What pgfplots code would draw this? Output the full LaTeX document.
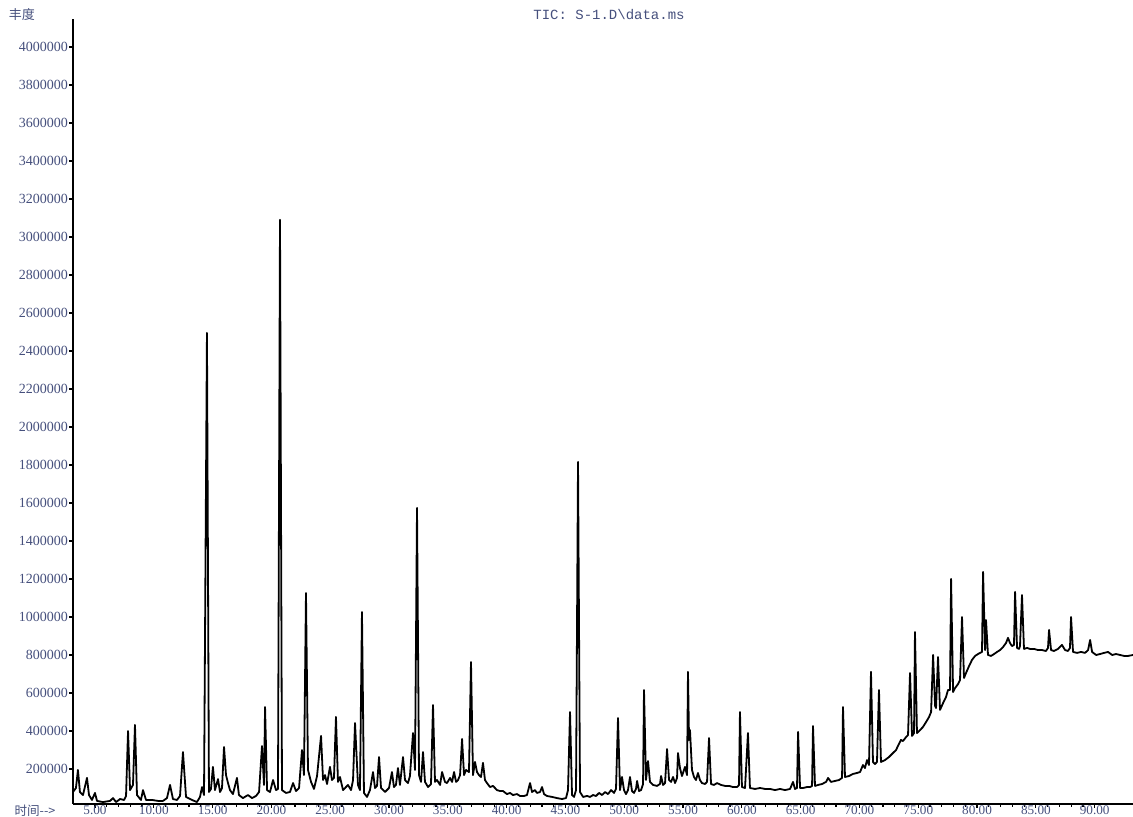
\documentclass[border=0pt]{standalone}
\usepackage{pgfplots}
\pgfplotsset{compat=1.18}
\usepackage{fontspec}
\setmainfont{Liberation Serif}
\newfontfamily\cjk{Noto Sans CJK SC}
\newfontfamily\monof{Liberation Mono}
\definecolor{lblc}{RGB}{70,80,125}
\begin{document}
\begin{tikzpicture}
\begin{axis}[
  name=ax,
  scale only axis,
  width=530pt, height=392.5pt,
  xmin=3.13, xmax=93.26,
  ymin=15800, ymax=4147000,
  axis x line=bottom, axis y line=left,
  axis line style={-, line width=1pt, black},
  xtick={5,10,...,90},
  minor x tick num=4,
  ytick={200000,400000,...,4000000},
  scaled y ticks=false, scaled x ticks=false,
  tick align=outside,
  major tick length=2pt, minor tick length=1.3pt,
  tick style={black, line width=0.6pt},
  xticklabel={\pgfmathprintnumber[fixed,fixed zerofill,precision=2]{\tick}},
  yticklabel={\pgfmathprintnumber[fixed,precision=0,1000 sep={}]{\tick}},
  /pgf/number format/assume math mode=true,
  ticklabel style={font=\fontsize{7}{8}\selectfont, text=lblc},
  xticklabel style={font=\fontsize{6.6}{7}\selectfont, inner sep=0pt, yshift=1.2pt},
  yticklabel style={xshift=3pt},
  clip=true,
]
\addplot[black, line width=0.9pt, line join=round] coordinates {
(3.13,79000) (3.38,100000) (3.55,195000) (3.72,79000) (3.98,63000) (4.32,153000) (4.49,63000) (4.74,37000)
(5.00,74000) (5.17,32000) (5.68,26000) (6.28,32000) (6.53,47000) (6.79,26000) (7.13,42000) (7.47,37000)
(7.64,58000) (7.81,400000) (7.98,89000) (8.23,116000) (8.40,432000) (8.57,63000) (8.91,37000) (9.08,89000)
(9.34,37000) (9.85,37000) (10.36,32000) (10.78,32000) (11.12,47000) (11.38,116000) (11.63,42000) (11.97,37000)
(12.23,58000) (12.48,289000) (12.74,53000) (13.25,37000) (13.67,26000) (13.93,53000) (14.10,105000) (14.27,63000)
(14.52,2495000) (14.69,79000) (14.86,95000) (15.03,211000) (15.20,89000) (15.46,147000) (15.63,79000) (15.80,100000)
(15.97,316000) (16.14,168000) (16.31,126000) (16.48,89000) (16.73,68000) (17.07,153000) (17.24,63000) (17.58,47000)
(18.01,63000) (18.35,47000) (18.69,58000) (18.95,79000) (19.20,321000) (19.37,116000) (19.46,526000) (19.63,89000)
(19.88,79000) (20.14,142000) (20.39,89000) (20.56,95000) (20.73,3090000) (20.90,89000) (21.24,74000) (21.58,79000)
(21.84,126000) (22.09,84000) (22.35,100000) (22.60,300000) (22.77,168000) (22.94,1126000) (23.11,195000) (23.37,132000)
(23.62,95000) (23.88,163000) (24.22,374000) (24.39,142000) (24.56,168000) (24.73,121000) (24.98,211000) (25.15,142000)
(25.32,153000) (25.49,474000) (25.66,132000) (25.83,158000) (26.09,89000) (26.51,116000) (26.77,89000) (26.94,142000)
(27.11,442000) (27.36,116000) (27.53,89000) (27.70,1026000) (27.87,74000) (28.13,53000) (28.38,89000) (28.64,184000)
(28.81,100000) (28.98,111000) (29.15,263000) (29.32,100000) (29.66,79000) (30.00,100000) (30.25,184000) (30.42,105000)
(30.59,116000) (30.76,205000) (30.93,116000) (31.19,263000) (31.36,142000) (31.61,126000) (31.78,163000) (32.04,389000)
(32.21,195000) (32.38,1574000) (32.55,168000) (32.72,132000) (32.89,289000) (33.06,132000) (33.32,105000) (33.57,121000)
(33.74,537000) (33.91,132000) (34.08,142000) (34.34,116000) (34.51,184000) (34.76,132000) (34.93,126000) (35.19,153000)
(35.36,132000) (35.53,184000) (35.70,132000) (35.87,142000) (36.04,168000) (36.21,358000) (36.38,168000) (36.55,195000)
(36.80,184000) (36.97,763000) (37.14,168000) (37.31,237000) (37.48,184000) (37.65,168000) (37.82,158000) (37.99,232000)
(38.16,142000) (38.33,126000) (38.59,105000) (38.84,111000) (39.18,89000) (39.44,84000) (39.69,84000) (40.03,68000)
(40.29,74000) (40.54,63000) (40.88,68000) (41.14,58000) (41.48,58000) (41.73,63000) (41.99,126000) (42.16,79000)
(42.41,89000) (42.58,74000) (42.84,79000) (43.01,105000) (43.18,68000) (43.43,58000) (43.86,53000) (44.28,47000)
(44.71,42000) (45.05,47000) (45.22,89000) (45.39,500000) (45.56,63000) (45.73,53000) (45.90,89000) (46.07,1816000)
(46.24,79000) (46.50,53000) (46.84,58000) (47.09,53000) (47.35,63000) (47.60,58000) (47.86,74000) (48.11,63000)
(48.37,79000) (48.62,68000) (48.88,89000) (49.13,74000) (49.30,95000) (49.47,468000) (49.64,89000) (49.81,158000)
(49.98,89000) (50.15,68000) (50.32,89000) (50.49,158000) (50.66,84000) (50.83,74000) (51.00,95000) (51.09,137000)
(51.26,84000) (51.43,89000) (51.60,121000) (51.68,616000) (51.85,142000) (52.02,242000) (52.19,132000) (52.45,116000)
(52.79,111000) (53.04,121000) (53.13,163000) (53.30,116000) (53.47,126000) (53.64,305000) (53.81,142000) (53.98,132000)
(54.15,158000) (54.32,126000) (54.49,153000) (54.57,284000) (54.74,205000) (54.91,163000) (55.17,211000) (55.34,168000)
(55.42,711000) (55.51,353000) (55.59,405000) (55.76,195000) (55.93,158000) (56.10,142000) (56.27,179000) (56.44,142000)
(56.61,126000) (56.87,121000) (57.04,132000) (57.21,363000) (57.38,121000) (57.63,116000) (57.89,126000) (58.23,116000)
(58.57,111000) (58.91,111000) (59.25,105000) (59.59,105000) (59.76,116000) (59.84,500000) (60.01,105000) (60.27,100000)
(60.52,389000) (60.69,100000) (61.12,95000) (61.55,100000) (61.97,95000) (62.40,95000) (62.82,89000) (63.25,95000)
(63.67,89000) (64.10,95000) (64.35,132000) (64.52,95000) (64.69,100000) (64.78,395000) (64.95,100000) (65.20,100000)
(65.54,105000) (65.80,105000) (65.97,111000) (66.05,426000) (66.22,111000) (66.48,116000) (66.82,121000) (67.16,132000)
(67.33,153000) (67.58,132000) (67.92,137000) (68.26,142000) (68.52,153000) (68.60,526000) (68.77,158000) (69.11,163000)
(69.45,174000) (69.79,179000) (70.05,184000) (70.30,221000) (70.47,205000) (70.64,247000) (70.81,221000) (70.98,711000)
(71.15,237000) (71.32,226000) (71.49,237000) (71.66,616000) (71.83,237000) (72.17,247000) (72.51,263000) (72.85,284000)
(73.11,300000) (73.36,332000) (73.53,353000) (73.70,347000) (73.96,368000) (74.13,379000) (74.30,705000) (74.47,374000)
(74.64,389000) (74.72,921000) (74.89,389000) (75.15,405000) (75.40,421000) (75.66,447000) (75.92,474000) (76.09,500000)
(76.26,800000) (76.43,532000) (76.51,521000) (76.68,789000) (76.85,511000) (77.11,547000) (77.36,579000) (77.53,616000)
(77.70,616000) (77.79,1200000) (77.96,605000) (78.13,626000) (78.38,647000) (78.55,668000) (78.72,1000000) (78.89,679000)
(79.06,705000) (79.32,742000) (79.57,774000) (79.83,795000) (80.08,805000) (80.25,811000) (80.42,816000) (80.51,1237000)
(80.68,826000) (80.76,984000) (80.93,800000) (81.19,795000) (81.44,805000) (81.70,816000) (81.95,826000) (82.21,842000)
(82.46,863000) (82.63,890000) (82.80,863000) (82.97,847000) (83.14,853000) (83.23,1132000) (83.40,837000) (83.57,832000)
(83.65,847000) (83.82,1116000) (83.99,832000) (84.25,837000) (84.50,832000) (84.84,832000) (85.18,826000) (85.52,826000)
(85.86,821000) (86.03,837000) (86.12,932000) (86.29,826000) (86.54,821000) (86.88,832000) (87.22,853000) (87.48,826000)
(87.73,821000) (87.90,837000) (87.99,1000000) (88.16,816000) (88.50,811000) (88.84,816000) (89.18,811000) (89.44,826000)
(89.61,879000) (89.78,816000) (90.12,800000) (90.46,805000) (90.80,811000) (91.14,816000) (91.48,800000) (91.82,805000)
(92.16,800000) (92.50,795000) (92.84,795000) (93.26,800000)
};
\end{axis}
\node[anchor=center, text=lblc, font=\cjk\fontsize{6.5}{7}\selectfont, xshift=-25.5pt, yshift=2pt] at (ax.north west) {丰度};
\node[anchor=center, text=lblc, font=\monof\fontsize{7}{8}\selectfont, xshift=268pt, yshift=2pt] at (ax.north west) {TIC: S-1.D\textbackslash data.ms};
\node[anchor=center, inner sep=0pt, text=lblc, font=\cjk\fontsize{6.3}{7}\selectfont, xshift=-19pt, yshift=-3.2pt] at (ax.south west) {时间-->};
\pgfresetboundingbox
\path[use as bounding box] (ax.south west) ++(-36.5pt,-6.5pt) rectangle ++(566.5pt,408.5pt);
\end{tikzpicture}
\end{document}
